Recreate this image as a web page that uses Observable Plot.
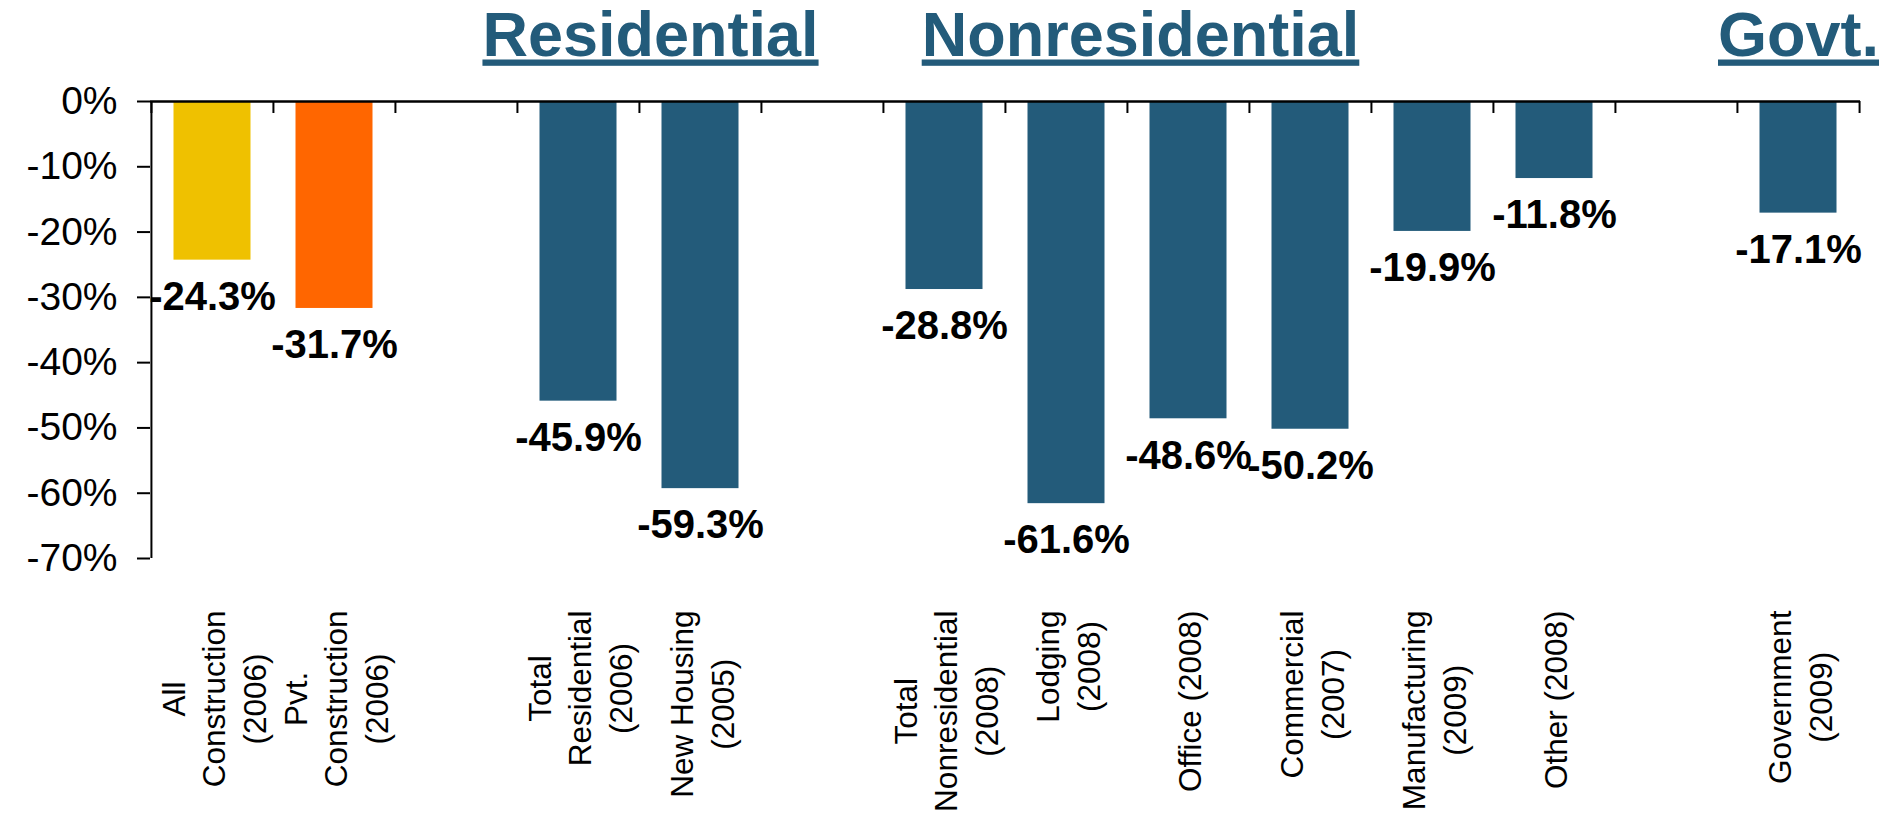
<!DOCTYPE html>
<html>
<head>
<meta charset="utf-8">
<script src="https://cdn.jsdelivr.net/npm/d3@7"></script>
<script src="https://cdn.jsdelivr.net/npm/@observablehq/plot@0.6"></script>
<style>
  html, body { margin: 0; padding: 0; background: #ffffff; }
  #chart svg { display: block; }
</style>
</head>
<body>
<div id="chart"></div>
<script>
// ---- data ----
const categories = [
  "All\nConstruction\n(2006)",
  "Pvt.\nConstruction\n(2006)",
  "Total\nResidential\n(2006)",
  "New Housing\n(2005)",
  "Total\nNonresidential\n(2008)",
  "Lodging\n(2008)",
  "Office (2008)",
  "Commercial\n(2007)",
  "Manufacturing\n(2009)",
  "Other (2008)",
  "Government\n(2009)"
];
const values = [-24.3, -31.7, -45.9, -59.3, -28.8, -61.6, -48.6, -50.2, -19.9, -11.8, -17.1];
const barColors = ["#EFC100", "#FF6600", "#235B7A", "#235B7A", "#235B7A", "#235B7A", "#235B7A", "#235B7A", "#235B7A", "#235B7A", "#235B7A"];
// empty slots between the groups
const slotOrder = [
  categories[0], categories[1], "gap-1",
  categories[2], categories[3], "gap-2",
  categories[4], categories[5], categories[6], categories[7], categories[8], categories[9], "gap-3",
  categories[10]
];
const yTicks = [0, -10, -20, -30, -40, -50, -60, -70];
const groupTitles = ["Residential", "Nonresidential", "Govt."];

const rows = categories.map((c, i) => ({category: c, value: values[i], color: barColors[i]}));

// ---- layout ----
const W = 1882, H = 813;
const mL = 150, mR = 22, mT = 101, mB = 255;
const bw = (W - mL - mR) / slotOrder.length;
const blue = "#235B7A";
const font = "'Liberation Sans', Arial, sans-serif";

const chart = Plot.plot({
  width: W,
  height: H,
  marginLeft: mL,
  marginRight: mR,
  marginTop: mT,
  marginBottom: mB,
  style: {fontFamily: font, background: "#ffffff", color: "#000000"},
  x: {domain: slotOrder, padding: 0, axis: null},
  y: {domain: [-70, 0]},
  color: {type: "identity"},
  marks: [
    Plot.barY(rows, {x: "category", y: "value", fill: "color", insetLeft: 22.5, insetRight: 22.5}),
    Plot.axisY(yTicks, {
      tickFormat: d => `${d}%`,
      tickSize: 13, tickPadding: 20, fontSize: 39, strokeWidth: 2,
      stroke: "#000000", fill: "#000000", label: null
    }),
    // y axis line
    Plot.ruleX([slotOrder[0]], {x: d => d, y1: -70, y2: 0, dx: -bw / 2, stroke: "#000000", strokeWidth: 2}),
    // zero line
    Plot.ruleY([0], {stroke: "#000000", strokeWidth: 2.3}),
    // category boundary ticks
    Plot.ruleX(slotOrder, {x: d => d, y1: 0, y2: 0, insetBottom: -12, dx: -bw / 2, stroke: "#000000", strokeWidth: 2}),
    Plot.ruleX([slotOrder[slotOrder.length - 1]], {x: d => d, y1: 0, y2: 0, insetBottom: -12, dx: bw / 2, stroke: "#000000", strokeWidth: 2}),
    // value labels
    Plot.text(rows, {
      x: "category", y: "value", text: d => `${d.value.toFixed(1)}%`,
      dy: 37, lineAnchor: "middle", fontSize: 40, fontWeight: "bold", fill: "#000000"
    }),
    // category labels (rotated)
    Plot.text(categories, {
      x: d => d, frameAnchor: "bottom", dy: 52, rotate: -90,
      textAnchor: "middle", lineAnchor: "middle", lineHeight: 1.28,
      fontSize: 31.5, fill: "#000000"
    }),
    // group titles
    Plot.text([groupTitles[0]], {x: () => categories[3], text: d => d, frameAnchor: "top", dy: -46, dx: -50,
      lineAnchor: "bottom", fontSize: 63, fontWeight: "bold", fill: blue}),
    Plot.text([groupTitles[1]], {x: () => categories[6], text: d => d, frameAnchor: "top", dy: -46, dx: -48,
      lineAnchor: "bottom", fontSize: 63, fontWeight: "bold", fill: blue}),
    Plot.text([groupTitles[2]], {x: () => categories[10], text: d => d, frameAnchor: "top", dy: -46, dx: 0,
      lineAnchor: "bottom", fontSize: 63, fontWeight: "bold", fill: blue})
  ]
});

document.getElementById("chart").append(chart);

const flatLabels = new Set(categories.map(c => c.replace(/\n/g, "")));
const titleSet = new Set(groupTitles);
chart.querySelectorAll("text").forEach(t => {
  const content = t.textContent;
  if (flatLabels.has(content) && t.getAttribute("transform") && t.getAttribute("transform").includes("rotate")) {
    // Excel-style rotated labels: longest line starts just below the plot, lines centred on each other
    const w = t.getBBox().width;
    t.setAttribute("transform", t.getAttribute("transform") + ` translate(${-w / 2},0)`);
  } else if (titleSet.has(content)) {
    t.style.textDecoration = "underline";
  }
});
</script>
</body>
</html>
